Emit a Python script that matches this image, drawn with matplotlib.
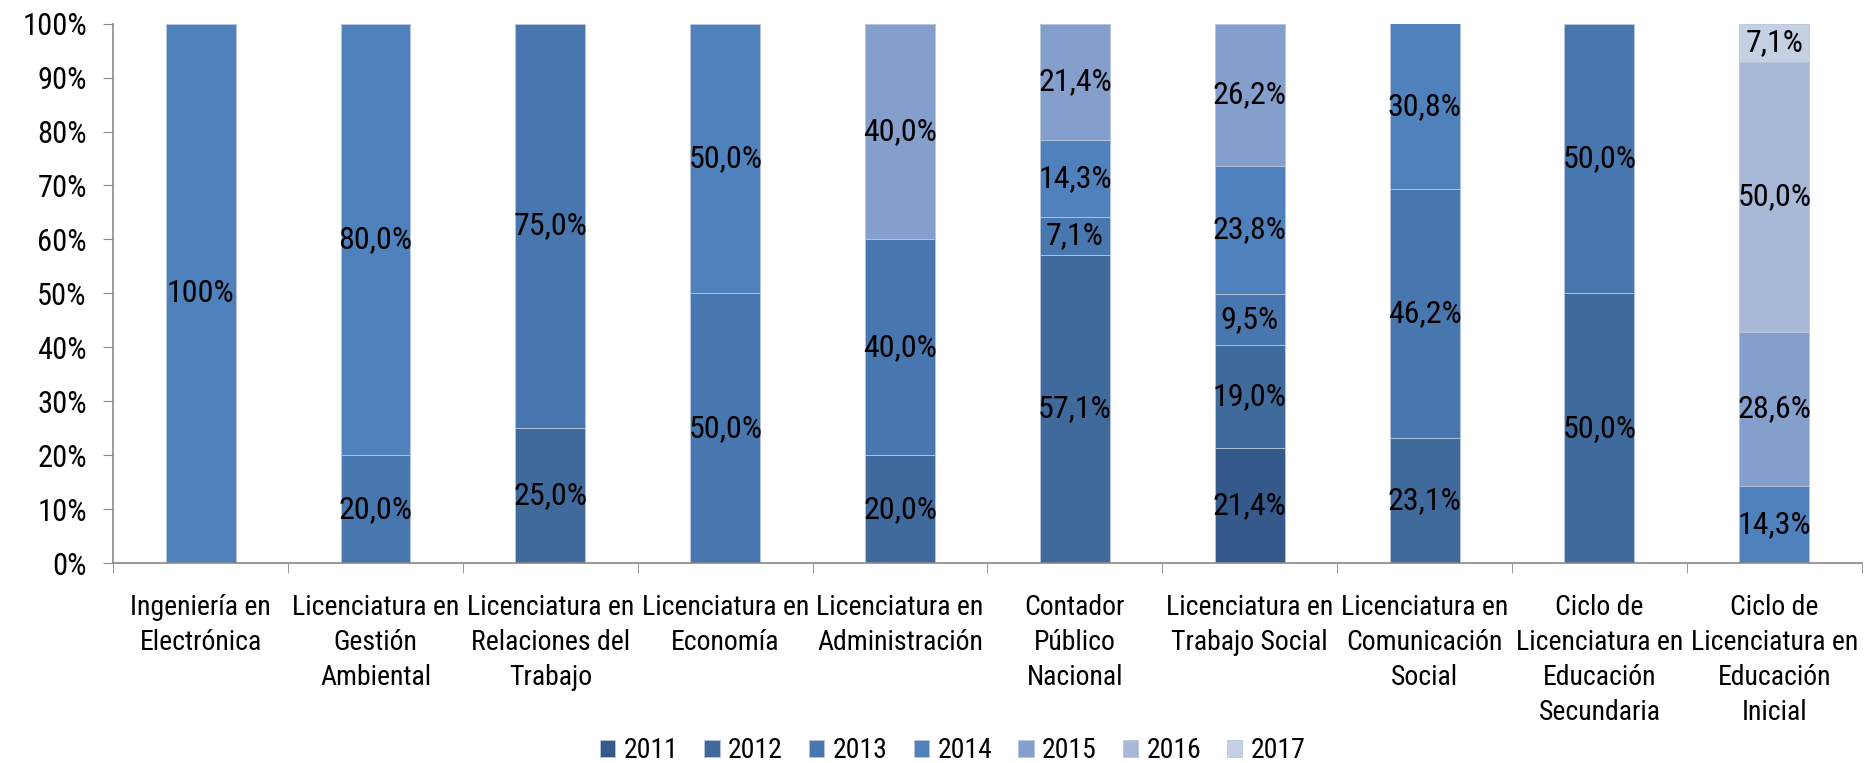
import matplotlib
matplotlib.use("Agg")
import matplotlib.pyplot as plt
import numpy as np
from matplotlib import font_manager

names = {f.name for f in font_manager.fontManager.ttflist}
prefs = ["Liberation Sans Narrow", "Arial Narrow", "Roboto Condensed", "PT Sans Narrow",
         "Archivo Narrow", "Liberation Sans"]
fam = [n for n in prefs if n in names][:1] + ["DejaVu Sans"]
plt.rcParams['font.family'] = fam

categories = [
    "Ingeniería en\nElectrónica",
    "Licenciatura en\nGestión\nAmbiental",
    "Licenciatura en\nRelaciones del\nTrabajo",
    "Licenciatura en\nEconomía",
    "Licenciatura en\nAdministración",
    "Contador\nPúblico\nNacional",
    "Licenciatura en\nTrabajo Social",
    "Licenciatura en\nComunicación\nSocial",
    "Ciclo de\nLicenciatura en\nEducación\nSecundaria",
    "Ciclo de\nLicenciatura en\nEducación\nInicial",
]
years = ["2011", "2012", "2013", "2014", "2015", "2016", "2017"]

s2011 = [0, 0, 0, 0, 0, 0, 21.4, 0, 0, 0]
s2012 = [0, 0, 25.0, 0, 20.0, 57.1, 19.0, 23.1, 50.0, 0]
s2013 = [0, 20.0, 75.0, 50.0, 40.0, 7.1, 9.5, 46.2, 50.0, 0]
s2014 = [100.0, 80.0, 0, 50.0, 0, 14.3, 23.8, 30.8, 0, 14.3]
s2015 = [0, 0, 0, 0, 40.0, 21.4, 26.2, 0, 0, 28.6]
s2016 = [0, 0, 0, 0, 0, 0, 0, 0, 0, 50.0]
s2017 = [0, 0, 0, 0, 0, 0, 0, 0, 0, 7.1]
series = [s2011, s2012, s2013, s2014, s2015, s2016, s2017]

colors = ["#34598A", "#3F6A9B", "#4876AE", "#4F81BD", "#849FCB", "#A8B8D7", "#C6D0E3"]

fig = plt.figure(figsize=(18.72, 7.63), dpi=100)
ax = fig.add_axes([0.0605, 0.262, 0.934, 0.707])

x = np.arange(len(categories))
bottom = np.zeros(len(categories))
fs = 23
for yr, vals, c in zip(years, series, colors):
    vals = np.array(vals, dtype=float)
    ax.bar(x, vals, 0.4, bottom=bottom, color=c, edgecolor="#B8C6DC", linewidth=0.6, label=yr)
    for xi, v, b in zip(x, vals, bottom):
        if v > 0:
            txt = "100%" if v >= 100 else f"{v:.1f}%".replace(".", ",")
            ax.text(xi, b + v / 2, txt, ha="center", va="center", fontsize=fs, color="black")
    bottom += vals

ax.set_xlim(-0.5, len(categories) - 0.5)
ax.set_ylim(0, 100)
ax.set_yticks(np.arange(0, 101, 10))
ax.set_yticklabels([f"{v}%" for v in range(0, 101, 10)], fontsize=22)
ax.set_xticks(x)
ax.set_xticklabels(categories, fontsize=20, linespacing=1.38, va="top")
ax.set_xticks(np.arange(-0.5, len(categories), 1), minor=True)
ax.tick_params(axis="x", which="major", length=0, pad=22)
ax.tick_params(axis="x", which="minor", length=7, color="#888888", direction="out")
ax.tick_params(axis="y", length=7, color="#888888", direction="out", pad=12)

for s in ["top", "right"]:
    ax.spines[s].set_visible(False)
for s in ["left", "bottom"]:
    ax.spines[s].set_color("#888888")
    ax.spines[s].set_linewidth(1.2)

fig.legend(loc="center", ncol=7, fontsize=20, frameon=False,
           bbox_to_anchor=(0.509, 0.016), handlelength=0.55, handleheight=0.55,
           handletextpad=0.3, columnspacing=0.94)

fig.savefig("out.png", dpi=100)
